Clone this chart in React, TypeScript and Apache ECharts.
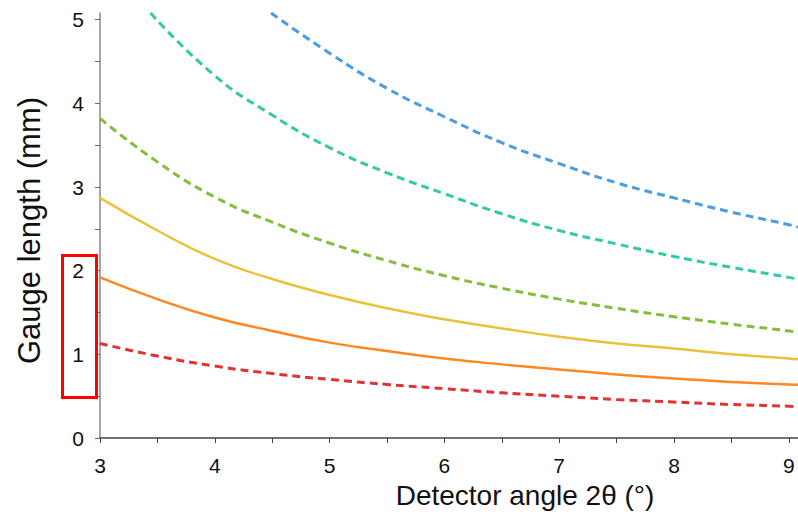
import React, { useEffect, useRef } from "react";
import * as echarts from "echarts";

const xTicks = [3, 3.5, 4, 4.5, 5, 5.5, 6, 6.5, 7, 7.5, 8, 8.5, 9];
const xLabels = [3, 4, 5, 6, 7, 8, 9];
const yTicks = [0, 0.5, 1, 1.5, 2, 2.5, 3, 3.5, 4, 4.5, 5];
const yLabels = [0, 1, 2, 3, 4, 5];

const redX = [3, 3.5, 4, 4.5, 5, 5.5, 6, 6.5, 7, 7.5, 8, 8.5, 9, 9.08];
const redY = [1.13, 0.98, 0.86, 0.77, 0.7, 0.64, 0.59, 0.54, 0.5, 0.46, 0.43, 0.4, 0.38, 0.37];
const orangeX = [3, 3.5, 4, 4.5, 5, 5.5, 6, 6.5, 7, 7.5, 8, 8.5, 9, 9.08];
const orangeY = [1.92, 1.66, 1.44, 1.28, 1.14, 1.04, 0.95, 0.88, 0.82, 0.76, 0.71, 0.67, 0.64, 0.635];
const yellowX = [3, 3.5, 4, 4.5, 5, 5.5, 6, 6.5, 7, 7.5, 8, 8.5, 9, 9.08];
const yellowY = [2.87, 2.48, 2.14, 1.9, 1.71, 1.55, 1.42, 1.31, 1.21, 1.13, 1.07, 1.0, 0.95, 0.94];
const greenX = [3, 3.5, 4, 4.5, 5, 5.5, 6, 6.5, 7, 7.5, 8, 8.5, 9, 9.08];
const greenY = [3.82, 3.3, 2.88, 2.58, 2.33, 2.12, 1.94, 1.79, 1.66, 1.55, 1.45, 1.36, 1.28, 1.26];
const tealX = [3.44, 4, 4.5, 5, 5.5, 6, 6.5, 7, 7.5, 8, 8.5, 9, 9.08];
const tealY = [5.08, 4.33, 3.86, 3.47, 3.17, 2.92, 2.68, 2.48, 2.32, 2.17, 2.04, 1.92, 1.9];
const blueX = [4.49, 5, 5.5, 6, 6.5, 7, 7.5, 8, 8.5, 9, 9.08];
const blueY = [5.08, 4.6, 4.18, 3.84, 3.53, 3.28, 3.05, 2.87, 2.7, 2.55, 2.52];

const pairs = (xs: number[], ys: number[]) => xs.map((x, i) => [x, ys[i]]);

export default function App() {
  const ref = useRef<HTMLDivElement>(null);
  useEffect(() => {
    document.body.style.margin = "0";
    if (!ref.current) return;
    const chart = echarts.init(ref.current, null, { renderer: "svg" });
    const font = "Liberation Sans, Arial, sans-serif";
    const dashed = [8, 5];
    const mk = (name: string, xs: number[], ys: number[], color: string, dash: boolean) => ({
      name,
      type: "line",
      data: pairs(xs, ys),
      smooth: true,
      symbol: "none",
      lineStyle: { color, width: dash ? 3 : 2.5, type: dash ? dashed : "solid" },
    });
    chart.setOption({
      animation: false,
      grid: { left: 100, right: 0, top: 13, bottom: 74, containLabel: false },
      xAxis: {
        type: "value",
        min: 3,
        max: 9.08,
        name: "Detector angle 2θ (°)",
        nameLocation: "middle",
        nameGap: 43,
        nameTextStyle: { fontSize: 28, color: "#111", fontFamily: font, padding: [0, 0, 0, 152] },
        axisLine: { show: true, lineStyle: { color: "#444", width: 1.5 } },
        axisTick: { show: true, length: 5, customValues: xTicks, lineStyle: { color: "#444" } },
        axisLabel: { customValues: xLabels, fontSize: 21, color: "#111", fontFamily: font, margin: 17 },
        splitLine: { show: false },
      },
      yAxis: {
        type: "value",
        min: 0,
        max: 5.08,
        name: "Gauge length (mm)",
        nameLocation: "middle",
        nameGap: 55,
        nameTextStyle: { fontSize: 31, color: "#111", fontFamily: font, padding: [0, 10, 0, 0] },
        axisLine: { show: true, lineStyle: { color: "#888", width: 1.5 } },
        axisTick: { show: true, length: 5, customValues: yTicks, lineStyle: { color: "#666" } },
        axisLabel: { customValues: yLabels, fontSize: 21, color: "#111", fontFamily: font, margin: 16 },
        splitLine: { show: false },
      },
      series: [
        mk("red", redX, redY, "#e23333", true),
        mk("orange", orangeX, orangeY, "#ff8822", false),
        mk("yellow", yellowX, yellowY, "#e9c13a", false),
        mk("green", greenX, greenY, "#85bd3d", true),
        mk("teal", tealX, tealY, "#33c9a6", true),
        mk("blue", blueX, blueY, "#4a9de0", true),
      ],
      graphic: [
        {
          type: "rect",
          left: 60,
          top: 253,
          shape: { width: 34, height: 142 },
          style: { fill: "none", stroke: "#ff0000", lineWidth: 3 },
          z: 100,
        },
      ],
    });
    return () => chart.dispose();
  }, []);
  return <div ref={ref} style={{ width: 798, height: 514 }} />;
}
